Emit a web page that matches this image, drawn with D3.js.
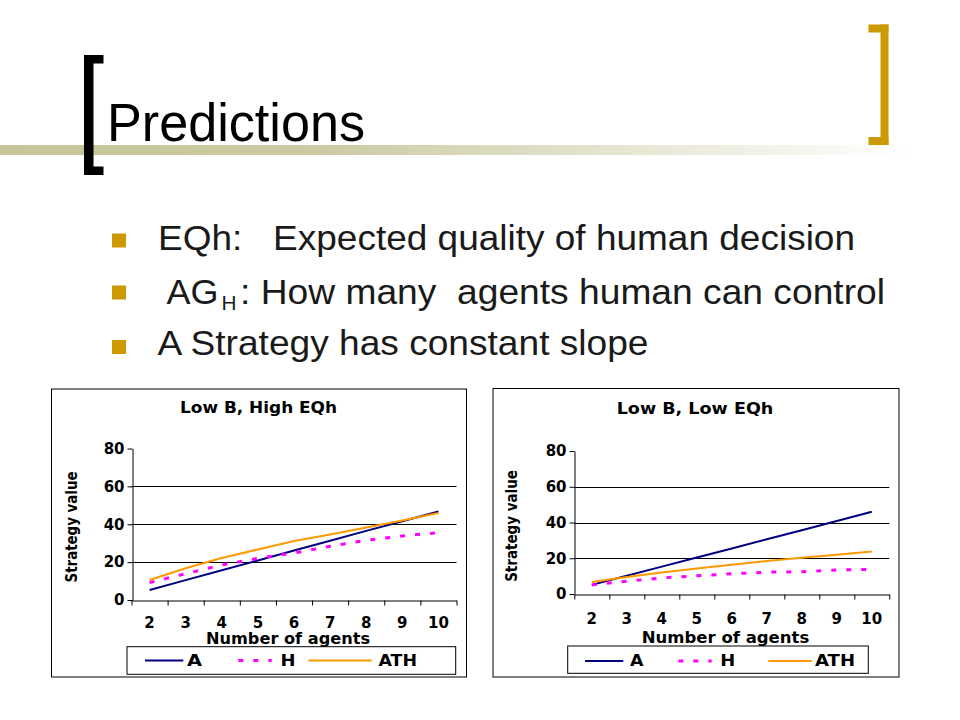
<!DOCTYPE html>
<html>
<head>
<meta charset="utf-8">
<script src="https://cdn.jsdelivr.net/npm/d3@7"></script>
<style>
  body { margin: 0; background: #fff; }
  svg { display: block; }
</style>
</head>
<body>
<script>
// chart values
const categories = [2, 3, 4, 5, 6, 7, 8, 9, 10];
const yTicks = [0, 20, 40, 60, 80];
const seriesNames = ["A", "H", "ATH"];

// Low B, High EQh
const highEqA   = [5.3, 10.5, 15.7, 20.9, 26.1, 31.3, 36.5, 41.6, 46.7];
const highEqH   = [9.2, 13.9, 18.5, 22.0, 24.8, 28.4, 31.5, 33.8, 35.6];
const highEqATH = [10.6, 16.8, 22.2, 26.7, 31.2, 34.6, 38.3, 42.0, 45.9];

// Low B, Low EQh
const lowEqA   = [5.1, 10.2, 15.3, 20.4, 25.5, 30.6, 35.7, 40.8, 46.0];
const lowEqH   = [5.1, 7.1, 9.0, 10.2, 11.3, 12.2, 12.5, 13.5, 13.7];
const lowEqATH = [6.7, 9.5, 12.0, 14.3, 16.3, 18.5, 20.3, 22.0, 23.8];

const slideTitle = "Predictions";

const svg = d3.select("body").append("svg")
  .attr("width", 960)
  .attr("height", 720);

// olive band under the title, fading out to the right
const grad = svg.append("defs").append("linearGradient")
  .attr("id", "band").attr("x1", "0%").attr("x2", "100%");
grad.append("stop").attr("offset", "0%").attr("stop-color", "#c6c699");
grad.append("stop").attr("offset", "35%").attr("stop-color", "#cbcaa3");
grad.append("stop").attr("offset", "100%").attr("stop-color", "#ffffff");

svg.append("rect")
  .attr("x", 0).attr("y", 145).attr("width", 910).attr("height", 10)
  .attr("fill", "url(#band)");

// black left bracket
const blk = svg.append("g").attr("fill", "#000");
blk.append("rect").attr("x", 84).attr("y", 55).attr("width", 9.5).attr("height", 120);
blk.append("rect").attr("x", 84).attr("y", 55).attr("width", 19.5).attr("height", 8.5);
blk.append("rect").attr("x", 84).attr("y", 166.5).attr("width", 19.5).attr("height", 8.5);

// gold right bracket
const gld = svg.append("g").attr("fill", "#cc9900");
gld.append("rect").attr("x", 880.5).attr("y", 24.5).attr("width", 8).attr("height", 120.5);
gld.append("rect").attr("x", 868.5).attr("y", 24.5).attr("width", 20).attr("height", 8);
gld.append("rect").attr("x", 868.5).attr("y", 137).attr("width", 20).attr("height", 8);

svg.append("text")
  .attr("x", 107).attr("y", 141)
  .attr("font-family", "'Liberation Sans', Arial, sans-serif")
  .attr("font-size", 53)
  .attr("fill", "#000")
  .attr("textLength", 258).attr("lengthAdjust", "spacingAndGlyphs")
  .text(slideTitle);

// bullets
const bulletFont = "'Liberation Sans', Arial, sans-serif";
[233.5, 285.5, 340].forEach(y => {
  svg.append("rect").attr("x", 112).attr("y", y)
    .attr("width", 14).attr("height", 14).attr("fill", "#cc9900");
});

function slideText(x, y, len, str, size) {
  return svg.append("text")
    .attr("x", x).attr("y", y)
    .attr("font-family", bulletFont)
    .attr("font-size", size || 35)
    .attr("fill", "#1a1a1a")
    .style("white-space", "pre")
    .attr("textLength", len).attr("lengthAdjust", "spacingAndGlyphs")
    .text(str);
}
slideText(158, 249.5, 697, "EQh:   Expected quality of human decision");
slideText(166.5, 303.5, 52, "AG");
slideText(221.5, 310, 15, "H", 21);
slideText(240, 303.5, 645, ": How many  agents human can control");
slideText(157.5, 355, 491, "A Strategy has constant slope");

// line styles for the three series
const seriesStyle = {
  A:   { color: "#000080", dash: null,   width: 2 },
  H:   { color: "#ff00ff", dash: "5,10", width: 3 },
  ATH: { color: "#ff9900", dash: null,   width: 2 }
};

const chartFont = "'DejaVu Sans', Verdana, sans-serif";

function drawChart(cfg) {
  const g = svg.append("g");

  g.append("rect")
    .attr("x", cfg.frame[0]).attr("y", cfg.frame[1])
    .attr("width", cfg.frame[2]).attr("height", cfg.frame[3])
    .attr("fill", "#fff").attr("stroke", "#000").attr("stroke-width", 1);

  const x = d3.scaleBand().domain(categories).range([cfg.x0, cfg.x1]);
  const xEdges = d3.scaleLinear().domain([0, categories.length]).range([cfg.x0, cfg.x1]);
  const y = d3.scaleLinear().domain([0, 80]).range([cfg.y0, cfg.y80]);

  // horizontal grid
  g.append("g").selectAll("line")
    .data(yTicks.filter(t => t > 0 && t < 80))
    .join("line")
    .attr("x1", cfg.x0).attr("x2", cfg.x1)
    .attr("y1", d => Math.round(y(d)) + 0.5).attr("y2", d => Math.round(y(d)) + 0.5)
    .attr("stroke", "#000").attr("stroke-width", 1);

  // y axis
  const ya = g.append("g")
    .attr("transform", `translate(${Math.round(cfg.x0) + 0.5},0)`)
    .call(d3.axisLeft(y).tickValues(yTicks).tickSize(5).tickPadding(3).tickSizeOuter(0));
  ya.selectAll("text").attr("font-family", chartFont).attr("font-weight", "bold")
    .attr("font-size", 15).attr("fill", "#000");

  // x axis: ticks at category edges, labels at band centers
  g.append("g")
    .attr("transform", `translate(0,${Math.round(cfg.y0) + 0.5})`)
    .call(d3.axisBottom(xEdges).tickValues(d3.range(categories.length + 1))
      .tickFormat("").tickSize(5).tickSizeOuter(0));
  const xl = g.append("g")
    .attr("transform", `translate(0,${Math.round(cfg.y0) + 0.5})`)
    .call(d3.axisBottom(x).tickSize(0).tickPadding(cfg.xLabelPad));
  xl.select(".domain").remove();
  xl.selectAll("text").attr("font-family", chartFont).attr("font-weight", "bold")
    .attr("font-size", 15).attr("fill", "#000");
  g.selectAll(".domain, .tick line").attr("stroke", "#000");

  // series lines
  const line = d3.line()
    .x((d, i) => x(categories[i]) + x.bandwidth() / 2)
    .y(d => y(d));
  seriesNames.forEach(name => {
    const s = seriesStyle[name];
    g.append("path")
      .datum(cfg.series[name])
      .attr("d", line)
      .attr("fill", "none")
      .attr("stroke", s.color)
      .attr("stroke-width", s.width)
      .attr("stroke-dasharray", s.dash);
  });

  // title and axis titles
  const bold = sel => sel.attr("font-family", chartFont).attr("font-weight", "bold")
    .attr("fill", "#000").attr("lengthAdjust", "spacingAndGlyphs");
  g.append("text").call(bold)
    .attr("x", cfg.title[1]).attr("y", cfg.title[2])
    .attr("text-anchor", "middle").attr("font-size", 16)
    .attr("textLength", cfg.title[3])
    .text(cfg.title[0]);
  g.append("text").call(bold)
    .attr("x", cfg.xTitle[0]).attr("y", cfg.xTitle[1])
    .attr("text-anchor", "middle").attr("font-size", 16)
    .attr("textLength", cfg.xTitle[2])
    .text("Number of agents");
  g.append("text").call(bold)
    .attr("transform", `translate(${cfg.yTitle[0]},${cfg.yTitle[1]}) rotate(-90)`)
    .attr("text-anchor", "middle").attr("font-size", 15)
    .attr("textLength", cfg.yTitle[2])
    .text("Strategy value");

  // legend
  const lg = cfg.legend;
  g.append("rect")
    .attr("x", lg.box[0]).attr("y", lg.box[1])
    .attr("width", lg.box[2]).attr("height", lg.box[3])
    .attr("fill", "#fff").attr("stroke", "#000").attr("stroke-width", 1);
  seriesNames.forEach((name, i) => {
    const s = seriesStyle[name];
    const it = lg.items[i];
    g.append("line")
      .attr("x1", it[0]).attr("x2", it[1])
      .attr("y1", lg.lineY).attr("y2", lg.lineY)
      .attr("stroke", s.color).attr("stroke-width", s.width)
      .attr("stroke-dasharray", s.dash);
    g.append("text").call(bold)
      .attr("x", it[2]).attr("y", lg.textY)
      .attr("font-size", 16)
      .attr("textLength", it[3])
      .text(name);
  });
}

drawChart({
  frame: [51.5, 389, 415, 288],
  x0: 131.5, x1: 456.5, y0: 600, y80: 448.5,
  xLabelPad: 16.5,
  series: { A: highEqA, H: highEqH, ATH: highEqATH },
  title: ["Low B, High EQh", 258.5, 413, 157],
  xTitle: [288, 644, 164],
  yTitle: [77, 527, 111],
  legend: {
    box: [127, 646.7, 328.7, 27.6],
    lineY: 660.5, textY: 666,
    items: [[145, 183.3, 187, 15], [238.3, 271.7, 280.5, 15], [308.3, 371.7, 378.5, 38.5]]
  }
});

drawChart({
  frame: [493, 388.5, 406, 288.5],
  x0: 574.3, x1: 889.3, y0: 594, y80: 451,
  xLabelPad: 19,
  series: { A: lowEqA, H: lowEqH, ATH: lowEqATH },
  title: ["Low B, Low EQh", 695, 413.5, 156.7],
  xTitle: [725.5, 642.5, 167.6],
  yTitle: [517, 526, 111.7],
  legend: {
    box: [567.7, 646, 300.6, 27.3],
    lineY: 661, textY: 666,
    items: [[585, 623.3, 630, 13.5], [678.3, 711.7, 720.3, 15], [768.3, 811.7, 815, 40]]
  }
});
</script>
</body>
</html>
